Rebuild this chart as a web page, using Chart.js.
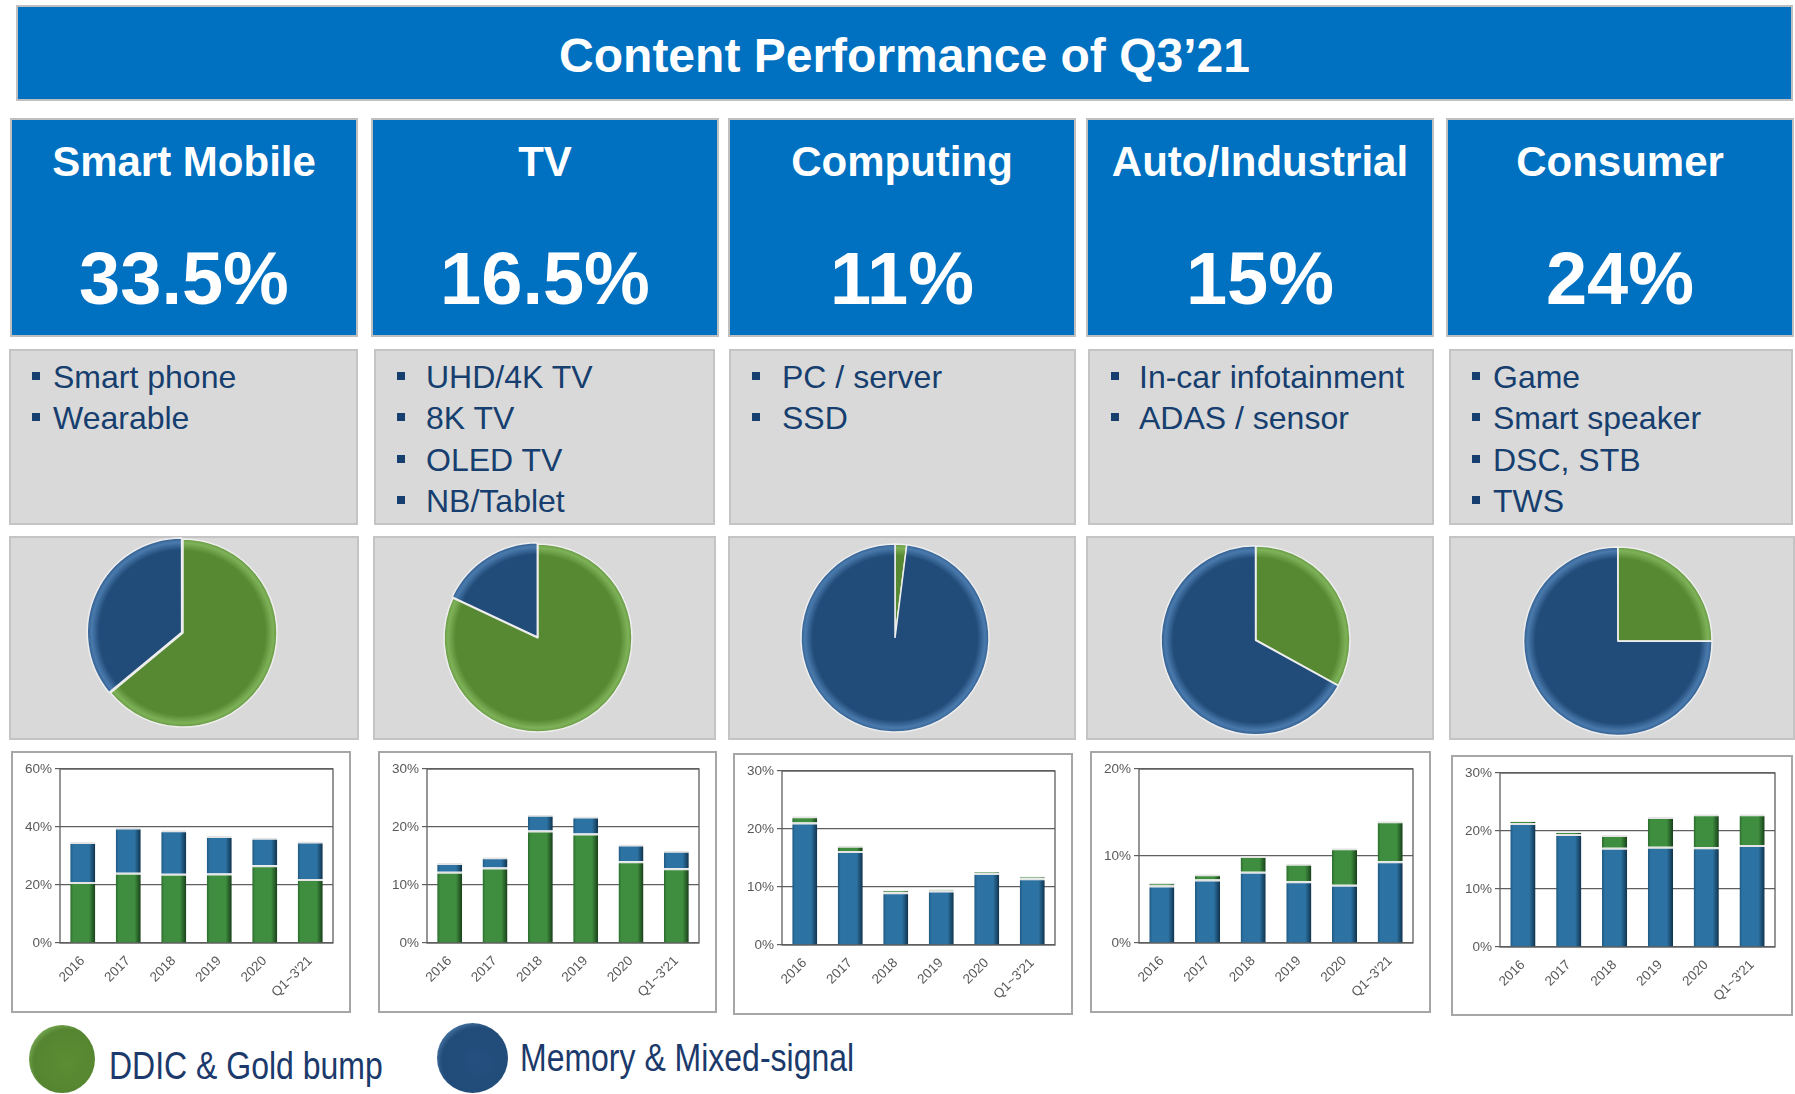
<!DOCTYPE html>
<html>
<head>
<meta charset="utf-8">
<title>Content Performance of Q3'21</title>
<script src="https://cdn.jsdelivr.net/npm/chart.js@4.4.1/dist/chart.umd.min.js"></script>
<style>
    html, body { margin: 0; padding: 0; background: #fff; }
    body { width: 1795px; height: 1094px; position: relative; overflow: hidden; font-family: "Liberation Sans", Arial, sans-serif; }
    .box { position: absolute; box-sizing: border-box; }
    .title { left: 16px; top: 5px; width: 1777px; height: 96px; background: #0070C0; border: 2px solid #BFBFBF; }
    .title span { position: absolute; left: 0; right: 0; top: 25px; text-align: center; color: #fff; font-weight: bold; font-size: 48px; line-height: 48px; }
    .head { top: 118px; height: 219px; background: #0070C0; border: 2px solid #BFBFBF; color: #fff; font-weight: bold; text-align: center; }
    .head .name { position: absolute; left: 0; right: 0; top: 21px; font-size: 42px; line-height: 42px; }
    .head .share { position: absolute; left: 0; right: 0; top: 122px; font-size: 74px; line-height: 74px; }
    .list { top: 349px; height: 176px; background: #D9D9D9; border: 2px solid #C4C4C4; color: #163E6E; font-size: 32px; }
    .list .item { position: absolute; white-space: nowrap; line-height: 32px; }
    .list .dot { position: absolute; width: 8px; height: 8px; background: #163E6E; }
    .pieBox { top: 536px; height: 204px; background: #D9D9D9; border: 2px solid #C4C4C4; }
    .pie { position: absolute; width: 210px; height: 210px; }
    .barBox { background: #fff; border: 2px solid #A6A6A6; }
    .barBox .inner { position: absolute; left: 0; top: 0; right: 0; bottom: 0; }
    .legendDot { position: absolute; border-radius: 50%; }
    .legendText { position: absolute; white-space: nowrap; font-size: 39px; line-height: 39px; color: #1B3A6B; transform: scaleX(0.82); transform-origin: left top; }
</style>
</head>
<body>
<div class="box title"><span>Content Performance of Q3’21</span></div>
<div id="columns"></div>

<div class="legendDot" style="left:29px;top:1025px;width:66px;height:68px;background:radial-gradient(ellipse at 58% 55%, #5b8d33 0%, #568531 62%, #86b862 82%, #4d7a2b 100%);"></div>
<div class="legendText" style="left:109px;top:1046px;">DDIC &amp; Gold bump</div>
<div class="legendDot" style="left:437px;top:1023px;width:71px;height:70px;background:radial-gradient(ellipse at 58% 55%, #24507f 0%, #214b78 62%, #5a89ba 82%, #1c4470 100%);"></div>
<div class="legendText" style="left:520px;top:1038px;">Memory &amp; Mixed-signal</div>

<script>
// Chart data
const years = ['2016', '2017', '2018', '2019', '2020', "Q1~3'21"];
const segments = ['Smart Mobile', 'TV', 'Computing', 'Auto/Industrial', 'Consumer'];
const shares = ['33.5%', '16.5%', '11%', '15%', '24%'];
const bulletItems = [
    ['Smart phone', 'Wearable'],
    ['UHD/4K TV', '8K TV', 'OLED TV', 'NB/Tablet'],
    ['PC / server', 'SSD'],
    ['In-car infotainment', 'ADAS / sensor'],
    ['Game', 'Smart speaker', 'DSC, STB', 'TWS']
];

// Pie split of the latest period (%): DDIC & Gold bump vs Memory & Mixed-signal
const pieDdic = [64, 82, 2, 33, 25];
const pieMemory = [36, 18, 98, 67, 75];

// Revenue share per year (%)
const mobileDdic = [21.0, 24.2, 23.9, 24.0, 26.8, 22.1];
const mobileMemory = [13.8, 15.6, 15.0, 12.9, 9.5, 12.9];
const tvDdic = [12.3, 13.0, 19.4, 18.9, 14.1, 12.9];
const tvMemory = [1.5, 1.8, 2.7, 2.9, 2.9, 3.0];
const computingDdic = [1.1, 0.9, 0.3, 0.2, 0.2, 0.3];
const computingMemory = [21.1, 16.2, 9.1, 9.4, 12.4, 11.5];
const autoDdic = [0.3, 0.6, 1.8, 2.0, 4.2, 4.6];
const autoMemory = [6.6, 7.3, 8.2, 7.1, 6.7, 9.4];
const consumerDdic = [0.3, 0.3, 2.2, 5.1, 5.7, 5.3];
const consumerMemory = [21.4, 19.5, 17.1, 17.3, 17.2, 17.6];

const ddicSeries = [mobileDdic, tvDdic, computingDdic, autoDdic, consumerDdic];
const memorySeries = [mobileMemory, tvMemory, computingMemory, autoMemory, consumerMemory];
const ddicOnBottom = [true, true, false, false, false];
const axisMax = [60, 30, 30, 20, 30];
const axisStep = [20, 10, 10, 10, 10];

// Layout (page pixels)
const headX = [10, 371, 728, 1086, 1446];
const listX = [9, 374, 729, 1088, 1449];
const listW = [349, 341, 347, 346, 344];
const textOffset = [42, 50, 51, 49, 42];
const pieBoxX = [9, 373, 728, 1086, 1449];
const pieBoxW = [350, 343, 348, 348, 346];
const pieCenters = [[183, 633], [538, 638], [895, 638], [1256, 640], [1618, 641]];
const pieOffsets = [[0, 6], [0, 5], [0, 0], [0, 2], [0, 1]];
const barBoxes = [[11, 751, 340, 262], [378, 751, 339, 262], [733, 753, 340, 262], [1090, 751, 341, 262], [1451, 755, 342, 261]];

const GREEN = { base: '#3f8e3f', edge: '#2a6a2c', dark: '#173f19' };
const BLUE = { base: '#2c73a3', edge: '#1f5880', dark: '#10324c' };
const PIE_GREEN = { base: '#578933', light: '#7eb258', dark: '#4e7d2d' };
const PIE_BLUE = { base: '#214c79', light: '#4a7aad', dark: '#1d4573' };

document.addEventListener('DOMContentLoaded', function() {
    buildColumns();
    segments.forEach((name, i) => {
        makePie(i);
        makeBarChart(i);
    });
});

// Headers, bullet lists and empty boxes
function buildColumns() {
    const wrap = document.getElementById('columns');
    let html = '';
    segments.forEach((name, i) => {
        html += `<div class="box head" style="left:${headX[i]}px;width:348px;">
                    <div class="name">${name}</div>
                    <div class="share">${shares[i]}</div>
                 </div>`;
        let items = '';
        bulletItems[i].forEach((text, k) => {
            const top = 10 + k * 41.3;
            items += `<div class="dot" style="left:21px;top:${top + 11}px;"></div>
                      <div class="item" style="left:${textOffset[i]}px;top:${top}px;">${text}</div>`;
        });
        html += `<div class="box list" style="left:${listX[i]}px;width:${listW[i]}px;">${items}</div>`;
        html += `<div class="box pieBox" style="left:${pieBoxX[i]}px;width:${pieBoxW[i]}px;"></div>`;
        html += `<div class="pie" style="left:${pieCenters[i][0] - 105}px;top:${pieCenters[i][1] - 105}px;"><canvas id="pie${i}"></canvas></div>`;
        const b = barBoxes[i];
        html += `<div class="box barBox" style="left:${b[0]}px;top:${b[1]}px;width:${b[2]}px;height:${b[3]}px;">
                    <div class="inner"><canvas id="bar${i}"></canvas></div>
                 </div>`;
    });
    wrap.innerHTML = html;
}

// Radial shading for the pie slices (index 0 = DDIC, 1 = Memory)
function pieFill(ctx) {
    const pal = ctx.dataIndex === 0 ? PIE_GREEN : PIE_BLUE;
    const area = ctx.chart.chartArea;
    if (!area) return pal.base;
    const cx = (area.left + area.right) / 2;
    const cy = (area.top + area.bottom) / 2;
    const g = ctx.chart.ctx.createRadialGradient(cx, cy, 0, cx, cy, 98);
    g.addColorStop(0, pal.base);
    g.addColorStop(0.84, pal.base);
    g.addColorStop(0.92, pal.light);
    g.addColorStop(1, pal.dark);
    return g;
}

function makePie(i) {
    new Chart(document.getElementById('pie' + i), {
        type: 'pie',
        data: {
            labels: ['DDIC & Gold bump', 'Memory & Mixed-signal'],
            datasets: [{
                data: [pieDdic[i], pieMemory[i]],
                backgroundColor: pieFill,
                borderColor: '#eeeeee',
                borderWidth: 1.5,
                offset: pieOffsets[i]
            }]
        },
        options: {
            responsive: true,
            maintainAspectRatio: false,
            animation: false,
            radius: 94,
            plugins: {
                legend: { display: false },
                tooltip: { enabled: false }
            }
        }
    });
}

// Bevelled bar look: dark edges, flat middle
function barFill(pal) {
    return function(ctx) {
        const chart = ctx.chart;
        const area = chart.chartArea;
        if (!area || !chart.scales.x) return pal.base;
        const x = chart.scales.x.getPixelForValue(ctx.dataIndex);
        const w = (area.right - area.left) / years.length * 0.55;
        const g = chart.ctx.createLinearGradient(x - w / 2, 0, x + w / 2, 0);
        g.addColorStop(0, pal.edge);
        g.addColorStop(0.12, pal.base);
        g.addColorStop(0.75, pal.base);
        g.addColorStop(1, pal.dark);
        return g;
    };
}

// Frame round the plot area
const framePlugin = {
    id: 'frame',
    beforeDatasetsDraw(chart) {
        const a = chart.chartArea;
        const c = chart.ctx;
        c.save();
        c.strokeStyle = '#5f5f5f';
        c.lineWidth = 1.3;
        c.strokeRect(a.left, a.top, a.right - a.left, a.bottom - a.top);
        c.restore();
    }
};

function makeBarChart(i) {
    const innerH = barBoxes[i][3] - 4;
    const ddic = {
        label: 'DDIC & Gold bump',
        data: ddicSeries[i],
        backgroundColor: barFill(GREEN)
    };
    const memory = {
        label: 'Memory & Mixed-signal',
        data: memorySeries[i],
        backgroundColor: barFill(BLUE)
    };
    const datasets = (ddicOnBottom[i] ? [ddic, memory] : [memory, ddic]).map(ds => Object.assign(ds, {
        borderColor: '#e4e4e4',
        borderWidth: { top: 2, bottom: 0, left: 0, right: 0 },
        borderSkipped: false,
        barPercentage: 0.55,
        categoryPercentage: 1
    }));

    new Chart(document.getElementById('bar' + i), {
        type: 'bar',
        data: { labels: years, datasets: datasets },
        plugins: [framePlugin],
        options: {
            responsive: true,
            maintainAspectRatio: false,
            animation: false,
            layout: { padding: { top: 16, right: 16, left: 0, bottom: 0 } },
            plugins: {
                legend: { display: false },
                tooltip: { enabled: false }
            },
            scales: {
                x: {
                    stacked: true,
                    grid: { display: false },
                    border: { display: false },
                    ticks: {
                        color: '#595959',
                        font: { family: 'Liberation Sans', size: 13.5 },
                        minRotation: 45,
                        maxRotation: 45,
                        padding: 2
                    },
                    afterFit: function(scale) { scale.height = innerH - 190; }
                },
                y: {
                    stacked: true,
                    min: 0,
                    max: axisMax[i],
                    border: { display: false },
                    grid: { color: '#5f5f5f', lineWidth: 1.2, tickLength: 5 },
                    ticks: {
                        stepSize: axisStep[i],
                        color: '#595959',
                        font: { family: 'Liberation Sans', size: 13.5 },
                        padding: 3,
                        callback: function(value) { return value + '%'; }
                    },
                    afterFit: function(scale) { scale.width = 47; }
                }
            }
        }
    });
}
</script>
</body>
</html>
